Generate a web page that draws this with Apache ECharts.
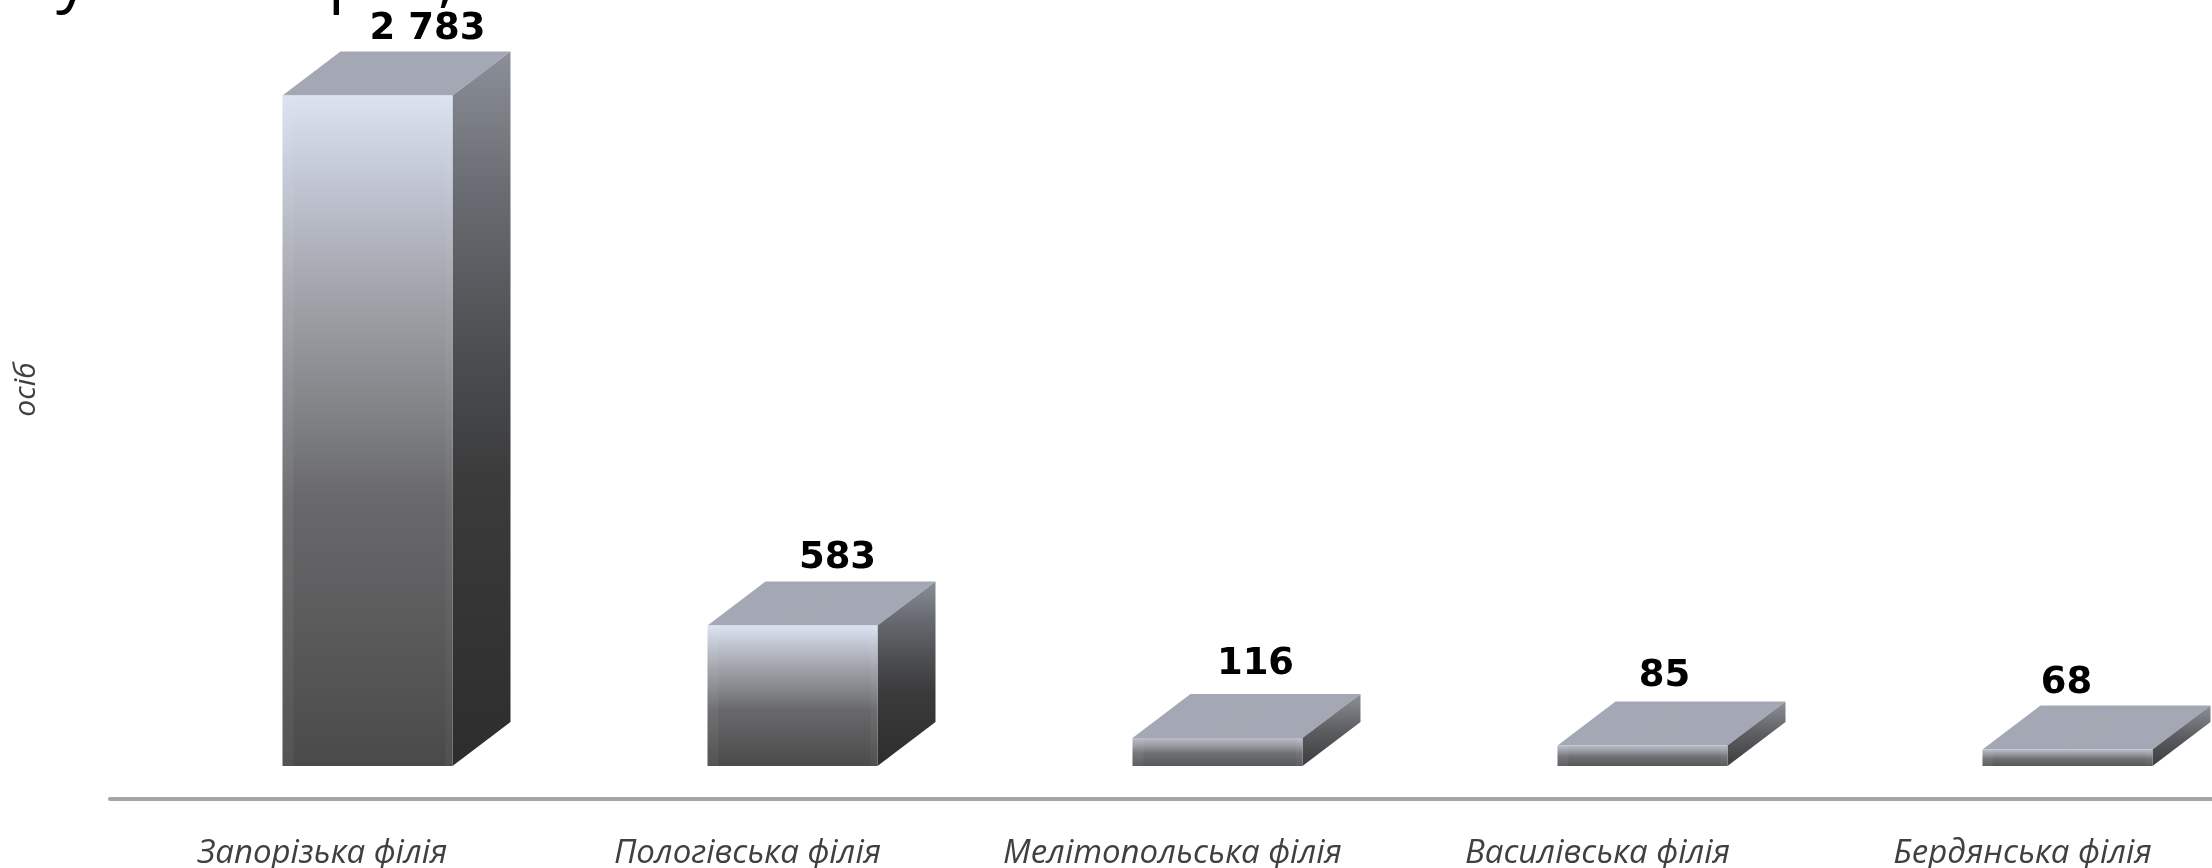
<!DOCTYPE html>
<html>
<head>
<meta charset="utf-8">
<style>html,body{margin:0;padding:0;background:#fff}#c{width:2212px;height:868px}</style>
<script src="https://cdn.jsdelivr.net/npm/echarts@6/dist/echarts.min.js"></script>
</head>
<body>
<div id="c"></div>
<script>
const categories = ['Запорізька філія', 'Пологівська філія', 'Мелітопольська філія', 'Василівська філія', 'Бердянська філія'];
const values = [2783, 583, 116, 85, 68];
const axisName = 'осіб';

const labelShiftX = [60, 45, 38, 22, -1];
const labelGap = [22, 23, 30, 25, 22];
const BAR_W = 170, SHIFT_X = 45, LIFT = 33, DX = 58, DY = 44;
const FONT_LABEL = '"Open Sans", "Noto Sans", sans-serif';

function grad(stops) {
  return new echarts.graphic.LinearGradient(0, 0, 0, 1, stops.map(s => ({offset: s[0], color: s[1]})));
}
const frontTall = [[0, '#dbe3f1'], [0.12, '#c3c8d5'], [0.3, '#a1a3aa'], [0.45, '#85878b'], [0.6, '#69696c'], [0.8, '#5a5a5b'], [1, '#4a4a4b']];
const sideTall = [[0, '#8b8f97'], [0.2, '#686b71'], [0.42, '#4c4e50'], [0.6, '#3b3b3c'], [1, '#2d2d2e']];
const frontShort = [[0, '#b8bdc8'], [0.25, '#9a9da4'], [0.55, '#6f7073'], [1, '#565758']];
const sideShort = [[0, '#8d9098'], [0.5, '#5c5e62'], [1, '#3c3d3e']];

function renderBar(params, api) {
  const i = api.value(0), v = api.value(1);
  const base = api.coord([i, 0]), top = api.coord([i, v]);
  const l = base[0] + SHIFT_X - BAR_W / 2, r = l + BAR_W;
  const b = base[1] - LIFT, t = top[1] - LIFT;
  const short = b - t < 60;
  const poly = (points, fill) => ({type: 'polygon', shape: {points}, style: {fill}, silent: true});
  const children = [
    poly([[l, t], [l + DX, t - DY], [r + DX, t - DY], [r, t]], '#a3a8b4'),
    poly([[r, t], [r + DX, t - DY], [r + DX, b - DY], [r, b]], grad(short ? sideShort : sideTall)),
    {type: 'rect', shape: {x: l, y: t, width: BAR_W, height: b - t}, style: {fill: grad(short ? frontShort : frontTall)}, silent: true},
    {type: 'rect', shape: {x: l, y: t, width: 11, height: b - t}, style: {fill: 'rgba(255,255,255,0.05)'}, silent: true},
    {type: 'rect', shape: {x: r - 7, y: t, width: 7, height: b - t}, style: {fill: 'rgba(255,255,255,0.04)'}, silent: true}
  ];
  if (i > 0) {
    children.push({type: 'line', shape: {x1: l + 83, y1: t - 2, x2: l + 83 + DX * 0.75, y2: t - DY * 0.75},
      style: {stroke: '#b3aca6', lineWidth: 1}, silent: true});
  }
  children.push({type: 'text', style: {
    text: String(v).replace(/\B(?=(\d{3})+$)/g, ' '),
    x: base[0] + SHIFT_X + labelShiftX[i], y: t - DY - labelGap[i],
    align: 'center', verticalAlign: 'middle',
    font: 'bold 37px "DejaVu Sans", sans-serif', fill: '#000'
  }});
  return {type: 'group', children};
}

const chart = echarts.init(document.getElementById('c'), null, {renderer: 'canvas'});
chart.setOption({
  animation: false,
  backgroundColor: '#fff',
  grid: {left: 110, right: -23, top: -20, bottom: 69, containLabel: false, outerBoundsMode: 'none'},
  xAxis: {
    type: 'category', data: categories, boundaryGap: true,
    axisTick: {show: false},
    axisLine: {lineStyle: {color: '#a6a6a6', width: 4}},
    axisLabel: {interval: 0, margin: 38, color: '#404040', fontSize: 33, fontStyle: 'italic', fontFamily: FONT_LABEL}
  },
  yAxis: {
    type: 'value', min: 0, max: 3400,
    axisLabel: {show: false}, axisLine: {show: false}, axisTick: {show: false}, splitLine: {show: false},
    name: axisName, nameLocation: 'middle', nameGap: 69, nameRotate: 90,
    nameTextStyle: {color: '#404040', fontSize: 30, fontStyle: 'italic', fontFamily: FONT_LABEL}
  },
  series: [{
    type: 'custom', clip: false, renderItem: renderBar,
    encode: {x: 0, y: 1},
    data: values.map((v, i) => [i, v])
  }],
  graphic: [
    {type: 'text', left: 56, top: -53, style: {text: 'у', font: '66px "Open Sans", sans-serif', fill: '#000'}},
    {type: 'text', left: 328, top: -53, style: {text: 'р', font: '66px "Open Sans", sans-serif', fill: '#000'}},
    {type: 'text', left: 438, top: -53, style: {text: ',', font: '66px "Open Sans", sans-serif', fill: '#000'}}
  ]
});
</script>
</body>
</html>
